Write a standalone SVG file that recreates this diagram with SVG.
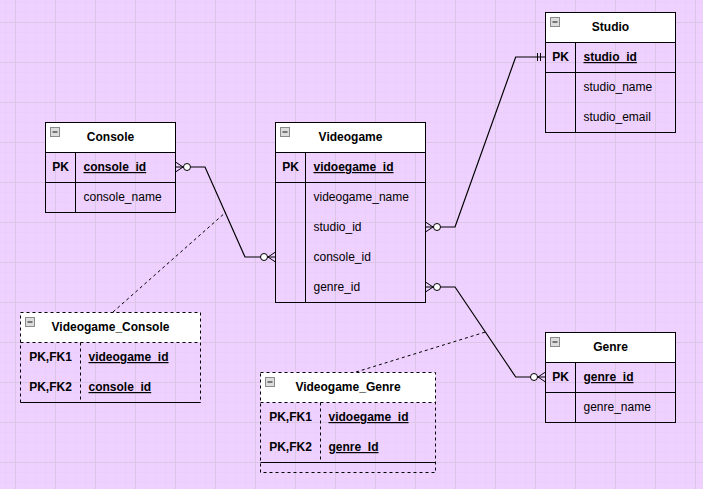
<svg xmlns="http://www.w3.org/2000/svg" width="703" height="489" viewBox="0 0 703 489">
<style>
.t{font-family:"Liberation Sans",Arial,sans-serif;font-size:12px;fill:#000}
.b{font-weight:bold}
.u{text-decoration:underline}
.c{text-anchor:middle}
.box{fill:none;stroke:#000;stroke-width:1}
.hdr{fill:#fff;stroke:none}
.ln{stroke:#000;stroke-width:1;fill:none}
.dash{stroke:#000;stroke-width:1;fill:none;stroke-dasharray:3 3}
.rel{stroke:#000;stroke-width:1.2;fill:none}
.circ{fill:#fff;stroke:#000;stroke-width:1}
.ico{fill:#dcdcdc;stroke:#8a8a8a;stroke-width:1}
.icom{stroke:#333;stroke-width:1.2}
</style>
<defs>
<pattern id="minor" width="10" height="10" patternUnits="userSpaceOnUse" x="5" y="2">
<path d="M0.5,0 V10 M0,0.5 H10" stroke="#ebcffb" stroke-width="1" fill="none"/>
</pattern>
<pattern id="major" width="40" height="40" patternUnits="userSpaceOnUse" x="15" y="22">
<path d="M0.5,0 V40 M0,0.5 H40" stroke="#dbc6e5" stroke-width="1" fill="none"/>
</pattern>
<g id="icon"><rect class="ico" x="0.5" y="0.5" width="9" height="9"/><line class="icom" x1="2.5" y1="5" x2="7.5" y2="5"/></g>
</defs>
<rect width="703" height="489" fill="#efd1ff"/>
<rect width="703" height="489" fill="url(#minor)"/>
<rect width="703" height="489" fill="url(#major)"/>

<g id="connectors">
<polyline class="rel" points="175.5,167 205,167 245,257 275.5,257"/>
<path class="ln" d="M175.5,162 L183,167 L175.5,172"/>
<circle class="circ" cx="187" cy="167" r="3.5"/>
<path class="ln" d="M275.5,252 L268,257 L275.5,262"/>
<circle class="circ" cx="264" cy="257" r="3.5"/>
<polyline class="rel" points="425.5,227 455,227 515.7,57 545.5,57"/>
<path class="ln" d="M425.5,222 L433,227 L425.5,232"/>
<circle class="circ" cx="437" cy="227" r="3.5"/>
<path class="ln" d="M537.5,53 V61 M540.5,53 V61"/>
<polyline class="rel" points="425.5,287 455,287 515.7,377 545.5,377"/>
<path class="ln" d="M425.5,282 L433,287 L425.5,292"/>
<circle class="circ" cx="437" cy="287" r="3.5"/>
<path class="ln" d="M545.5,372 L538,377 L545.5,382"/>
<circle class="circ" cx="534" cy="377" r="3.5"/>
<line class="dash" x1="113" y1="312" x2="226" y2="212"/>
<line class="dash" x1="356" y1="372" x2="485.5" y2="332"/>
</g>

<g id="console">
<rect class="hdr" x="45.5" y="122.5" width="130" height="30"/>
<rect class="box" x="45.5" y="122.5" width="130" height="90"/>
<path class="ln" d="M45.5,152.5 H175.5 M45.5,182.5 H175.5 M75.5,152.5 V212.5"/>
<use href="#icon" x="50" y="127"/>
<text class="t b c" x="110.5" y="141">Console</text>
<text class="t b c" x="60.5" y="171">PK</text>
<text class="t b u" x="83.5" y="171">console_id</text>
<text class="t" x="83.5" y="201">console_name</text>
</g>

<g id="videogame">
<rect class="hdr" x="275.5" y="122.5" width="150" height="30"/>
<rect class="box" x="275.5" y="122.5" width="150" height="180"/>
<path class="ln" d="M275.5,152.5 H425.5 M275.5,182.5 H425.5 M305.5,152.5 V302.5"/>
<use href="#icon" x="280" y="127"/>
<text class="t b c" x="350.5" y="141">Videogame</text>
<text class="t b c" x="290.5" y="171">PK</text>
<text class="t b u" x="313.5" y="171">vidoegame_id</text>
<text class="t" x="313.5" y="201">videogame_name</text>
<text class="t" x="313.5" y="231">studio_id</text>
<text class="t" x="313.5" y="261">console_id</text>
<text class="t" x="313.5" y="291">genre_id</text>
</g>

<g id="studio">
<rect class="hdr" x="545.5" y="12.5" width="130" height="30"/>
<rect class="box" x="545.5" y="12.5" width="130" height="120"/>
<path class="ln" d="M545.5,42.5 H675.5 M545.5,72.5 H675.5 M575.5,42.5 V132.5"/>
<use href="#icon" x="550" y="17"/>
<text class="t b c" x="610.5" y="31">Studio</text>
<text class="t b c" x="560.5" y="61">PK</text>
<text class="t b u" x="583.5" y="61">studio_id</text>
<text class="t" x="583.5" y="91">studio_name</text>
<text class="t" x="583.5" y="121">studio_email</text>
</g>

<g id="genre">
<rect class="hdr" x="545.5" y="332.5" width="130" height="30"/>
<rect class="box" x="545.5" y="332.5" width="130" height="90"/>
<path class="ln" d="M545.5,362.5 H675.5 M545.5,392.5 H675.5 M575.5,362.5 V422.5"/>
<use href="#icon" x="550" y="337"/>
<text class="t b c" x="610.5" y="351">Genre</text>
<text class="t b c" x="560.5" y="381">PK</text>
<text class="t b u" x="583.5" y="381">genre_id</text>
<text class="t" x="583.5" y="411">genre_name</text>
</g>

<g id="videogame_console">
<rect class="hdr" x="20.5" y="312.5" width="180" height="30"/>
<rect class="dash" x="20.5" y="312.5" width="180" height="90"/>
<path class="dash" d="M20.5,342.5 H200.5 M80.5,342.5 V402.5"/>
<path class="ln" d="M20.5,402.5 H200.5"/>
<use href="#icon" x="25" y="317"/>
<text class="t b c" x="110.5" y="331">Videogame_Console</text>
<text class="t b c" x="50.5" y="361">PK,FK1</text>
<text class="t b u" x="88.5" y="361">videogame_id</text>
<text class="t b c" x="50.5" y="391">PK,FK2</text>
<text class="t b u" x="88.5" y="391">console_id</text>
</g>

<g id="videogame_genre">
<rect class="hdr" x="260.5" y="372.5" width="175" height="30"/>
<rect class="dash" x="260.5" y="372.5" width="175" height="100"/>
<path class="dash" d="M260.5,402.5 H435.5 M320.5,402.5 V462.5"/>
<path class="ln" d="M260.5,462.5 H435.5"/>
<use href="#icon" x="265" y="377"/>
<text class="t b c" x="348" y="391">Videogame_Genre</text>
<text class="t b c" x="290.5" y="421">PK,FK1</text>
<text class="t b u" x="328.5" y="421">vidoegame_id</text>
<text class="t b c" x="290.5" y="451">PK,FK2</text>
<text class="t b u" x="328.5" y="451">genre_Id</text>
</g>
</svg>
